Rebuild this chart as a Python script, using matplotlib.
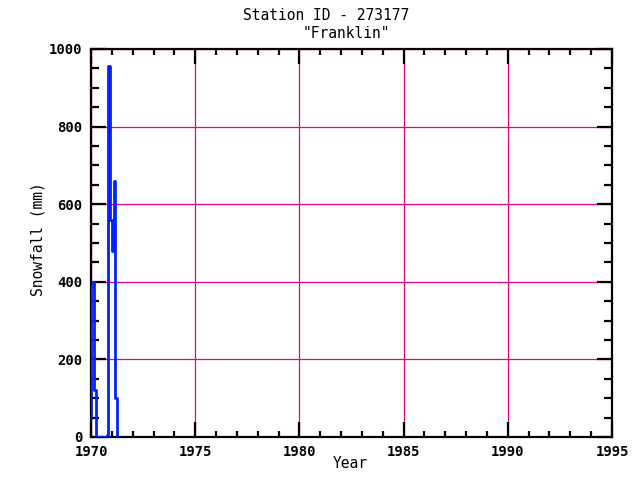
import numpy as np
import matplotlib
matplotlib.use('Agg')
import matplotlib.pyplot as plt
from matplotlib.ticker import MultipleLocator

# monthly snowfall (mm); first entry is the value before Jan 1970
month_edges = [1970 + k / 12.0 for k in range(17)]
snowfall = [50, 390, 400, 120, 0, 0, 0, 0, 0, 0, 5, 955, 560, 480, 660, 100, 0]

station = "273177"
name = "Franklin"
grid_col = '#E8008C'

fig = plt.figure(figsize=(6.4, 4.8), dpi=100)
ax = fig.add_axes([91 / 640, 1 - 437 / 480, 521 / 640, 388 / 480])

ax.plot(month_edges, snowfall, drawstyle='steps-pre', color='#0022FF', lw=2.0, zorder=3)

ax.set_xlim(1970, 1995)
ax.set_ylim(0, 1000)
ax.xaxis.set_major_locator(MultipleLocator(5))
ax.xaxis.set_minor_locator(MultipleLocator(1))
ax.yaxis.set_major_locator(MultipleLocator(200))
ax.yaxis.set_minor_locator(MultipleLocator(50))
ax.grid(True, which='major', color=grid_col, lw=0.9)

ax.tick_params(which='both', direction='in', top=True, right=True, width=1.6, color='black')
ax.tick_params(axis='y', which='major', length=11, pad=6)
ax.tick_params(axis='y', which='minor', length=6)
ax.tick_params(axis='x', which='major', length=11, pad=6)
ax.tick_params(axis='x', which='minor', length=4.5)
for lab in ax.get_xticklabels():
    lab.set_family('DejaVu Sans Mono')
    lab.set_fontweight('bold')
    lab.set_fontsize(10)
for lab in ax.get_yticklabels():
    lab.set_family('DejaVu Sans Mono')
    lab.set_fontweight('bold')
    lab.set_fontsize(10)
    lab.set_verticalalignment('center_baseline')
for sp in ax.spines.values():
    sp.set_linewidth(1.6)

fig.text(326 / 640, 1 - 15 / 480, 'Station ID - ' + station, ha='center', va='center',
         family='DejaVu Sans Mono', fontsize=10.5)
fig.text(346 / 640, 1 - 33 / 480, '"' + name + '"', ha='center', va='center',
         family='DejaVu Sans Mono', fontsize=10.5)
fig.text(350 / 640, 1 - 463 / 480, 'Year', ha='center', va='center',
         family='DejaVu Sans Mono', fontsize=10.5)
fig.text(38 / 640, 1 - 239 / 480, 'Snowfall (mm)', ha='center', va='center', rotation=90,
         family='DejaVu Sans Mono', fontsize=10.5)

fig.savefig('out.png', dpi=100)
